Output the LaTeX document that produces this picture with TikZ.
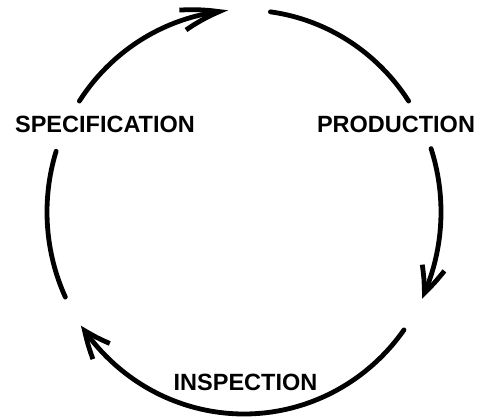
\documentclass[tikz,border=0pt]{standalone}
\usepackage{fontspec}
\setmainfont{Liberation Sans}
\usetikzlibrary{arrows.meta,bending}
\begin{document}
\begin{tikzpicture}[x=1pt,y=1pt,
  cyc/.style={line width=4.8pt,line cap=round},
  tipped/.style={cyc,-{Straight Barb[length=27pt,width=23pt,bend]}},
  longtip/.style={cyc,-{Straight Barb[length=38pt,width=21pt,bend]}},
  lbl/.style={font=\bfseries\fontsize{23.5}{28}\selectfont,inner sep=0pt}]
\useasboundingbox (0,0) rectangle (481,418);
\coordinate (c) at (244,206);
% left arc (specification -> top)
\draw[cyc] (c) ++(204.9:197 and 202) arc[start angle=204.9,end angle=162.5,x radius=197,y radius=202];
\draw[longtip] (c) ++(146.7:197 and 202) arc[start angle=146.7,end angle=94.6,x radius=197,y radius=202];
% right arc (top -> production)
\draw[cyc] (c) ++(82.3:197 and 202) arc[start angle=82.3,end angle=33.3,x radius=197,y radius=202];
\draw[tipped] (c) ++(18.3:197 and 202) arc[start angle=18.3,end angle=-25.4,x radius=197,y radius=202];
% bottom arc (inspection)
\draw[tipped] (c) ++(-35.7:197 and 202) arc[start angle=-35.7,end angle=-145.8,x radius=197,y radius=202];
\node[lbl] (spec) at (105,294) {SPECIFICATION};
\node[lbl] (prod) at (396,294) {PRODUCTION};
\node[lbl] (insp) at (245.5,35.5) {INSPECTION};
\end{tikzpicture}
\end{document}
